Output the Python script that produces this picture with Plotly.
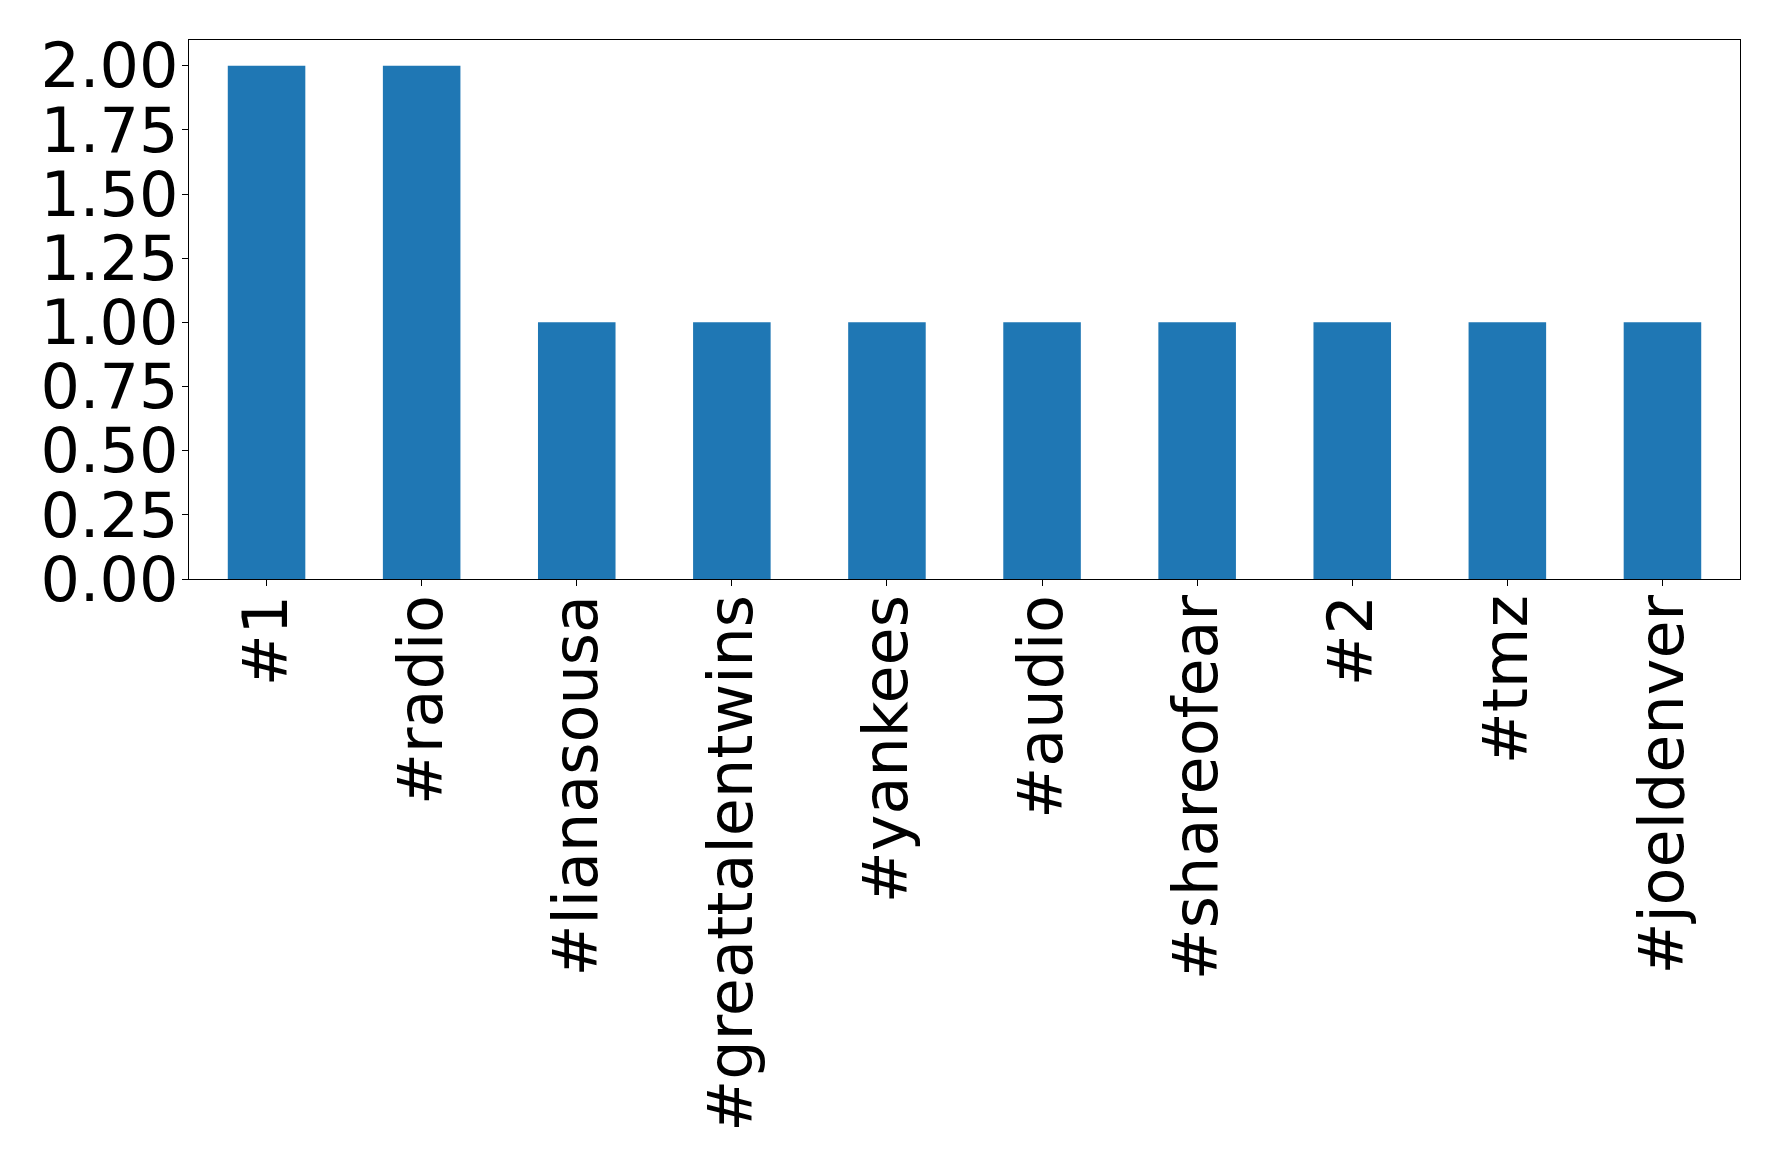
import plotly.graph_objects as go

categories = ["#1", "#radio", "#lianasousa", "#greattalentwins", "#yankees",
              "#audio", "#shareofear", "#2", "#tmz", "#joeldenver"]
counts = [2, 2, 1, 1, 1, 1, 1, 1, 1, 1]
ytick_vals = [0, 0.25, 0.5, 0.75, 1.0, 1.25, 1.5, 1.75, 2.0]

fig = go.Figure(go.Bar(x=categories, y=counts, width=0.5,
                       marker=dict(color="#1f77b4", line=dict(width=0))))

font = dict(family="DejaVu Sans", size=62, color="black")
fig.update_layout(
    width=1770, height=1161,
    margin=dict(l=181, r=38, t=32, b=590, pad=0),
    paper_bgcolor="white", plot_bgcolor="white",
    showlegend=False, bargap=0.5,
    font=font,
)
fig.update_xaxes(range=[-0.5, 9.5], tickangle=-90, tickfont=font,
                 ticklabelstandoff=-16,
                 showline=True, linecolor="black", linewidth=1.3, mirror=True,
                 ticks="outside", ticklen=6, tickcolor="black", tickwidth=1.3,
                 showgrid=False)
fig.update_yaxes(range=[0, 2.1], tickvals=ytick_vals, tickformat=".2f", tickfont=font,
                 ticklabelstandoff=-9,
                 showline=True, linecolor="black", linewidth=1.3, mirror=True,
                 ticks="outside", ticklen=6, tickcolor="black", tickwidth=1.3,
                 showgrid=False, zeroline=False)

fig.write_html("out.html")
